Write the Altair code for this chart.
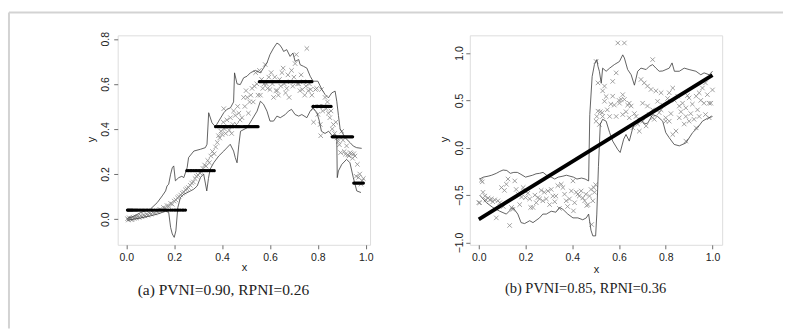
import bisect
import altair as alt
import pandas as pd

# ---------------- panel (a) ----------------
a_x = [0.005, 0.008, 0.012, 0.016, 0.02, 0.024, 0.028, 0.033, 0.038, 0.043, 0.048, 0.054, 0.06, 0.066,
       0.072, 0.078, 0.085, 0.09, 0.097, 0.104, 0.11, 0.118, 0.125, 0.132, 0.14, 0.147, 0.155, 0.162,
       0.17, 0.177, 0.185, 0.192, 0.2, 0.207, 0.214, 0.22, 0.227, 0.234, 0.24, 0.247, 0.253, 0.26,
       0.267, 0.273, 0.28, 0.287, 0.293, 0.3, 0.307, 0.313, 0.32, 0.327, 0.333, 0.34, 0.347, 0.353,
       0.36, 0.367, 0.373, 0.38, 0.385, 0.39, 0.395, 0.4, 0.405, 0.407, 0.41, 0.415, 0.42, 0.425,
       0.43, 0.435, 0.44, 0.445, 0.448, 0.455, 0.46, 0.465, 0.47, 0.475, 0.483, 0.49, 0.495, 0.5,
       0.505, 0.51, 0.515, 0.52, 0.525, 0.53, 0.535, 0.54, 0.545, 0.55, 0.556, 0.56, 0.565, 0.57,
       0.575, 0.58, 0.585, 0.59, 0.595, 0.6, 0.605, 0.61, 0.615, 0.62, 0.625, 0.63, 0.635, 0.64,
       0.645, 0.65, 0.655, 0.66, 0.665, 0.67, 0.675, 0.68, 0.685, 0.69, 0.695, 0.7, 0.705, 0.71,
       0.715, 0.72, 0.725, 0.73, 0.735, 0.74, 0.745, 0.75, 0.754, 0.76, 0.765, 0.77, 0.775, 0.78,
       0.782, 0.79, 0.795, 0.8, 0.805, 0.81, 0.812, 0.815, 0.82, 0.825, 0.83, 0.835, 0.84, 0.844,
       0.85, 0.855, 0.86, 0.865, 0.87, 0.875, 0.88, 0.885, 0.89, 0.895, 0.9, 0.905, 0.91, 0.915,
       0.92, 0.925, 0.93, 0.935, 0.94, 0.945, 0.95, 0.955, 0.96, 0.965, 0.97, 0.975, 0.98, 0.985, 0.99]
a_y = [0.002, -0.004, 0.006, 0.0, 0.004, -0.003, 0.008, 0.003, 0.01, 0.005, 0.012, 0.007, 0.015, 0.01,
       0.018, 0.014, 0.022, 0.017, 0.026, 0.022, 0.03, 0.027, 0.036, 0.033, 0.043, 0.04, 0.052, 0.048,
       0.06, 0.057, 0.07, 0.066, 0.08, 0.085, 0.094, 0.1, 0.107, 0.115, 0.12, 0.13, 0.135, 0.14,
       0.15, 0.16, 0.165, 0.18, 0.19, 0.195, 0.205, 0.21, 0.225, 0.24, 0.235, 0.26, 0.25, 0.28,
       0.3, 0.29, 0.32, 0.34, 0.37, 0.36, 0.39, 0.375, 0.43, 0.49, 0.4, 0.38, 0.44, 0.41,
       0.395, 0.45, 0.38, 0.42, 0.48, 0.46, 0.42, 0.5, 0.47, 0.44, 0.45, 0.54, 0.5, 0.57,
       0.54, 0.47, 0.52, 0.55, 0.58, 0.52, 0.59, 0.65, 0.6, 0.55, 0.66, 0.55, 0.62, 0.58,
       0.6, 0.686, 0.6, 0.58, 0.63, 0.575, 0.65, 0.6, 0.54, 0.63, 0.57, 0.57, 0.55, 0.62,
       0.59, 0.65, 0.67, 0.6, 0.56, 0.58, 0.64, 0.54, 0.61, 0.66, 0.59, 0.63, 0.69, 0.73,
       0.6, 0.6, 0.57, 0.64, 0.575, 0.61, 0.55, 0.59, 0.757, 0.57, 0.6, 0.575, 0.55, 0.49,
       0.43, 0.575, 0.58, 0.465, 0.5, 0.42, 0.37, 0.575, 0.48, 0.5, 0.54, 0.49, 0.52, 0.47,
       0.45, 0.48, 0.4, 0.42, 0.38, 0.43, 0.36, 0.345, 0.33, 0.295, 0.39, 0.35, 0.3, 0.288,
       0.325, 0.285, 0.28, 0.295, 0.29, 0.27, 0.29, 0.28, 0.19, 0.243, 0.185, 0.2, 0.155, 0.17, 0.18]

# fitted step function: breakpoints and levels
a_step_breaks = [0.25, 0.372, 0.556, 0.78, 0.858, 0.95]
a_step_levels = [0.04, 0.215, 0.41, 0.61, 0.50, 0.365, 0.16]

# band lines
a_up_x = [0.004, 0.03, 0.06, 0.1, 0.129, 0.15, 0.164, 0.17, 0.177, 0.185, 0.192, 0.198, 0.205, 0.219,
          0.232, 0.24, 0.254, 0.26, 0.282, 0.31, 0.33, 0.337, 0.344, 0.358, 0.372, 0.386, 0.407, 0.42,
          0.435, 0.448, 0.452, 0.4625, 0.476, 0.49, 0.504, 0.518, 0.539, 0.56, 0.573, 0.5875, 0.6,
          0.615, 0.629, 0.64, 0.65, 0.657, 0.67, 0.684, 0.696, 0.705, 0.72, 0.726, 0.74, 0.754,
          0.768, 0.78, 0.8, 0.817, 0.83, 0.844, 0.858, 0.872, 0.879, 0.886, 0.893, 0.914, 0.935,
          0.948, 0.962, 0.983]
a_up_y = [0.003, 0.012, 0.029, 0.044, 0.073, 0.103, 0.125, 0.147, 0.155, 0.199, 0.228, 0.236, 0.17, 0.184,
          0.19, 0.184, 0.228, 0.273, 0.302, 0.31, 0.317, 0.332, 0.472, 0.427, 0.41, 0.435, 0.472, 0.487,
          0.494, 0.52, 0.649, 0.6, 0.597, 0.627, 0.634, 0.649, 0.66, 0.649, 0.67, 0.693, 0.73,
          0.759, 0.781, 0.774, 0.759, 0.744, 0.752, 0.722, 0.737, 0.7, 0.708, 0.685, 0.678, 0.67,
          0.634, 0.612, 0.612, 0.575, 0.553, 0.538, 0.56, 0.568, 0.523, 0.46, 0.4, 0.361, 0.339,
          0.324, 0.317, 0.314]
a_lo_x = [0.004, 0.06, 0.1, 0.129, 0.164, 0.177, 0.185, 0.192, 0.2, 0.207, 0.215, 0.226, 0.24, 0.268,
          0.282, 0.296, 0.31, 0.323, 0.33, 0.336, 0.343, 0.35, 0.365, 0.386, 0.407, 0.434, 0.448,
          0.455, 0.4625, 0.47, 0.477, 0.504, 0.525, 0.546, 0.56, 0.573, 0.5875, 0.6, 0.615, 0.629,
          0.643, 0.664, 0.677, 0.69, 0.705, 0.72, 0.733, 0.754, 0.768, 0.78, 0.796, 0.805, 0.815,
          0.83, 0.845, 0.86, 0.872, 0.879, 0.881, 0.886, 0.9, 0.92, 0.934, 0.948, 0.9625, 0.98]
a_lo_y = [-0.005, 0.005, 0.014, 0.022, 0.035, 0.03, -0.037, -0.066, -0.081, -0.052, 0.051, 0.096, 0.11, 0.125,
          0.133, 0.147, 0.185, 0.2, 0.16, 0.125, 0.18, 0.221, 0.25, 0.28, 0.302, 0.332, 0.302,
          0.273, 0.25, 0.33, 0.39, 0.405, 0.442, 0.479, 0.523, 0.51, 0.479, 0.435, 0.435, 0.457,
          0.45, 0.464, 0.479, 0.487, 0.464, 0.457, 0.464, 0.45, 0.479, 0.494, 0.472, 0.44, 0.39,
          0.38, 0.39, 0.37, 0.375, 0.36, 0.184, 0.214, 0.243, 0.265, 0.25, 0.184, 0.125, 0.118]

a_x_ticks = [0.0, 0.2, 0.4, 0.6, 0.8, 1.0]
a_y_ticks = [0.0, 0.2, 0.4, 0.6, 0.8]
a_caption = "(a) PVNI=0.90, RPNI=0.26"

# ---------------- panel (b) ----------------
b_x = [0.0, 0.004, 0.011, 0.015, 0.018, 0.026, 0.03, 0.04, 0.047, 0.054, 0.06, 0.068, 0.075, 0.082,
       0.09, 0.097, 0.105, 0.11, 0.118, 0.125, 0.132, 0.14, 0.146, 0.154, 0.16, 0.168, 0.175, 0.183,
       0.19, 0.196, 0.2, 0.21, 0.218, 0.222, 0.232, 0.24, 0.246, 0.253, 0.26, 0.267, 0.274, 0.28,
       0.289, 0.296, 0.303, 0.31, 0.317, 0.325, 0.33, 0.338, 0.345, 0.353, 0.36, 0.367, 0.374, 0.38,
       0.388, 0.396, 0.403, 0.405, 0.41, 0.417, 0.424, 0.43, 0.438, 0.445, 0.453, 0.458, 0.462, 0.467,
       0.474, 0.48, 0.483, 0.488, 0.492, 0.495, 0.5,
       0.502, 0.502, 0.505, 0.51, 0.51, 0.516, 0.52, 0.528, 0.53, 0.53, 0.538, 0.538, 0.545, 0.55,
       0.56, 0.565, 0.573, 0.573, 0.58, 0.588, 0.588, 0.595, 0.6, 0.602, 0.609, 0.616, 0.616, 0.623,
       0.623, 0.63, 0.637, 0.644, 0.644, 0.652, 0.659, 0.666, 0.673, 0.68, 0.687, 0.694, 0.701, 0.701,
       0.708, 0.716, 0.722, 0.722, 0.73, 0.737, 0.744, 0.744, 0.744, 0.751, 0.758, 0.765, 0.772, 0.78,
       0.78, 0.787, 0.8, 0.8, 0.808, 0.815, 0.815, 0.822, 0.83, 0.83, 0.837, 0.844, 0.851, 0.858,
       0.858, 0.865, 0.872, 0.879, 0.886, 0.886, 0.886, 0.893, 0.9, 0.9, 0.907, 0.914, 0.921, 0.93,
       0.93, 0.936, 0.943, 0.943, 0.95, 0.957, 0.964, 0.97, 0.97, 0.978, 0.986, 0.986, 0.993, 1.0]
b_y = [-0.58, -0.58, -0.343, -0.36, -0.47, -0.51, -0.55, -0.53, -0.55, -0.54, -0.57, -0.55, -0.74, -0.56,
       -0.58, -0.42, -0.62, -0.45, -0.385, -0.33, -0.82, -0.63, -0.65, -0.35, -0.44, -0.49, -0.6, -0.52,
       -0.42, -0.456, -0.526, -0.48, -0.54, -0.63, -0.63, -0.5, -0.58, -0.526, -0.54, -0.45, -0.56, -0.47,
       -0.54, -0.456, -0.6, -0.44, -0.51, -0.57, -0.51, -0.4, -0.64, -0.385, -0.42, -0.49, -0.56, -0.62,
       -0.54, -0.456, -0.35, -0.666, -0.58, -0.47, -0.49, -0.51, -0.456, -0.53, -0.56, -0.49, -0.61, -0.6,
       -0.51, -0.44, -0.81, -0.56, -0.42, -0.47, -0.39,
       0.91, 0.28, 0.33, 0.684, 0.386, 0.245, 0.38, 0.37, 0.6, 0.33, 0.65, 0.49, 0.54, 0.4,
       0.33, 0.46, 0.7, 0.544, 0.45, 0.79, 0.33, 1.105, 0.5, 0.47, 0.51, 0.56, 0.35, 1.105,
       0.51, 0.38, 0.45, 0.47, 0.316, 0.44, 0.21, 0.36, 0.33, 0.25, 0.175, 0.72, 0.47, 0.28,
       0.684, 0.23, 0.65, 0.44, 0.35, 0.615, 0.93, 0.4, 0.316, 0.3, 0.6, 0.49, 0.37, 0.58,
       0.4, 0.45, 0.316, 0.28, 0.52, 0.58, 0.28, 0.36, 0.63, 0.14, 0.5, 0.176, 0.544, 0.44,
       0.316, 0.38, 0.47, 0.25, 0.42, 0.33, 0.07, 0.55, 0.526, 0.28, 0.36, 0.46, 0.3, 0.544,
       0.21, 0.4, 0.58, 0.33, 0.5, 0.63, 0.47, 0.684, 0.35, 0.56, 0.47, 0.316, 0.47, 0.61]

# fitted straight line (end values)
b_fit_x = [0.0, 1.0]
b_fit_y = [-0.755, 0.765]

b_up_x = [0.004, 0.02, 0.04, 0.055, 0.075, 0.09, 0.104, 0.12, 0.135, 0.15, 0.165, 0.18, 0.2, 0.215,
          0.23, 0.245, 0.26, 0.275, 0.29, 0.31, 0.325, 0.34, 0.36, 0.375, 0.39, 0.405, 0.42, 0.44,
          0.455, 0.47, 0.475, 0.485, 0.495, 0.505, 0.51, 0.516, 0.524, 0.53, 0.545, 0.56, 0.58,
          0.602, 0.616, 0.623, 0.637, 0.652, 0.666, 0.68, 0.694, 0.716, 0.73, 0.744, 0.758, 0.772,
          0.787, 0.815, 0.827, 0.837, 0.858, 0.879, 0.9, 0.929, 0.95, 0.964, 0.986, 1.0]
b_up_y = [-0.33, -0.31, -0.3, -0.29, -0.27, -0.25, -0.235, -0.24, -0.27, -0.26, -0.26, -0.28, -0.31, -0.3,
          -0.29, -0.275, -0.27, -0.26, -0.29, -0.31, -0.33, -0.31, -0.3, -0.29, -0.3, -0.31, -0.33, -0.32,
          -0.33, -0.35, 0.35, 0.75, 0.88, 0.93, 0.86, 0.807, 0.68, 0.84, 0.807, 0.84, 0.877,
          0.91, 0.98, 0.947, 0.825, 0.77, 0.66, 0.807, 0.84, 0.825, 0.86, 0.877, 0.84, 0.807,
          0.81, 0.84, 0.895, 0.807, 0.807, 0.84, 0.825, 0.807, 0.77, 0.79, 0.77, 0.807]
b_lo_x = [0.004, 0.033, 0.06, 0.09, 0.118, 0.146, 0.167, 0.181, 0.196, 0.218, 0.232, 0.26, 0.274, 0.289,
          0.31, 0.33, 0.345, 0.36, 0.381, 0.403, 0.424, 0.445, 0.46, 0.47, 0.48, 0.488, 0.5, 0.505,
          0.512, 0.52, 0.53, 0.545, 0.56, 0.573, 0.595, 0.605, 0.62, 0.63, 0.644, 0.659, 0.673,
          0.687, 0.708, 0.723, 0.744, 0.765, 0.787, 0.8, 0.815, 0.836, 0.858, 0.886, 0.915, 0.936,
          0.957, 0.978, 1.0]
b_lo_y = [-0.5, -0.58, -0.63, -0.67, -0.7, -0.63, -0.7, -0.79, -0.8, -0.77, -0.79, -0.74, -0.7, -0.7,
          -0.67, -0.68, -0.63, -0.65, -0.7, -0.74, -0.74, -0.76, -0.74, -0.7, -0.87, -0.93, -0.93, -0.7,
          -0.2, 0.25, 0.3, 0.28, 0.16, 0.07, -0.02, -0.05, 0.09, 0.14, 0.07, 0.21, 0.28,
          0.316, 0.25, 0.26, 0.35, 0.33, 0.28, 0.16, 0.105, 0.035, 0.02, 0.05, 0.16, 0.21,
          0.28, 0.31, 0.33]

b_x_ticks = [0.0, 0.2, 0.4, 0.6, 0.8, 1.0]
b_y_ticks = [-1.0, -0.5, 0.0, 0.5, 1.0]
b_caption = "(b) PVNI=0.85, RPNI=0.36"

# ---------------- styling ----------------
W, H = 253, 210
BOX = "#6e6e6e"
CROSS = "M-1,-1L1,1M-1,1L1,-1"
SANS = "Liberation Sans"
SERIF = "Liberation Serif"


def band_frame(ux, uy, lx, ly):
    rows = [{"x": x, "y": y, "band": "upper", "i": i} for i, (x, y) in enumerate(zip(ux, uy))]
    rows += [{"x": x, "y": y, "band": "lower", "i": i} for i, (x, y) in enumerate(zip(lx, ly))]
    return pd.DataFrame(rows)


def axes(xdom, ydom, xt, yt, fs, ylab_pad, ytitle_x, xtitle_y):
    xax = alt.Axis(values=xt, format=".1f", domain=False, grid=False, tickSize=4, tickColor=BOX,
                   labelFont=SANS, labelFontSize=fs, labelColor="#222", labelPadding=4,
                   labelFlush=False, labelOverlap=False, title="x", titleFont=SANS,
                   titleFontSize=11, titleFontWeight="normal", titleColor="#222",
                   titleX=W / 2, titleY=xtitle_y, titleBaseline="middle", titleAlign="center")
    yax = alt.Axis(values=yt, format=".1f", domain=False, grid=False, tickSize=4, tickColor=BOX,
                   labelFont=SANS, labelFontSize=fs, labelColor="#222", labelPadding=ylab_pad,
                   labelAngle=270, labelAlign="center", labelBaseline="bottom",
                   labelFlush=False, labelOverlap=False, title="y", titleFont=SANS,
                   titleFontSize=11, titleFontWeight="normal", titleColor="#222",
                   titleAngle=270, titleX=ytitle_x, titleY=H / 2 - 1, titleBaseline="middle",
                   titleAlign="center")
    x = alt.X("x:Q", scale=alt.Scale(domain=xdom, nice=False, zero=False), axis=xax)
    y = alt.Y("y:Q", scale=alt.Scale(domain=ydom, nice=False, zero=False), axis=yax)
    return x, y


# ---------------- panel (a) chart ----------------
a_dot_y = [a_step_levels[bisect.bisect_right(a_step_breaks, v)] for v in a_x]
a_pts = pd.DataFrame({"x": a_x, "y": a_y})
a_dots = pd.DataFrame({"x": a_x, "y": a_dot_y})
a_bands = band_frame(a_up_x, a_up_y, a_lo_x, a_lo_y)
ax_, ay_ = axes([-0.036, 1.018], [-0.114, 0.8155], a_x_ticks, a_y_ticks, 10.5, 3.7, -26.3, 22.7)

a_cross = alt.Chart(a_pts).mark_point(shape=CROSS, size=20, filled=False, strokeWidth=0.8,
                                      color="#8a8a8a", opacity=1).encode(x=ax_, y=ay_)
a_line = alt.Chart(a_bands).mark_line(color="#3c3c3c", strokeWidth=0.8).encode(
    x="x:Q", y="y:Q", detail="band:N", order="i:Q")
a_dot = alt.Chart(a_dots).mark_circle(size=11, color="black", opacity=1).encode(x="x:Q", y="y:Q")
a_cap = alt.Chart(pd.DataFrame({"t": [a_caption]})).mark_text(
    font=SERIF, fontSize=15.5, color="#222", align="center", baseline="middle").encode(
    x=alt.value(106), y=alt.value(255), text="t:N")
frame_src = pd.DataFrame({"d": [0]})
frame_top = alt.Chart(frame_src).mark_rule(color="#d3d3d3", strokeWidth=2).encode(
    x=alt.value(-109), x2=alt.value(667), y=alt.value(-23))
frame_left = alt.Chart(frame_src).mark_rule(color="#d3d3d3", strokeWidth=2).encode(
    x=alt.value(-109), y=alt.value(-23), y2=alt.value(294))

panel_a = alt.layer(a_cross, a_line, a_dot, a_cap, frame_top, frame_left).properties(
    width=W, height=H)

# ---------------- panel (b) chart ----------------
b_pts = pd.DataFrame({"x": b_x, "y": b_y})
b_fit = pd.DataFrame({"x": b_fit_x, "y": b_fit_y})
b_bands = band_frame(b_up_x, b_up_y, b_lo_x, b_lo_y)
bx_, by_ = axes([-0.0384, 1.0414], [-1.024, 1.186], b_x_ticks, b_y_ticks, 10.5, 1.8, -25.6, 24.3)

b_cross = alt.Chart(b_pts).mark_point(shape=CROSS, size=20, filled=False, strokeWidth=0.8,
                                      color="#8a8a8a", opacity=1).encode(x=bx_, y=by_)
b_line = alt.Chart(b_bands).mark_line(color="#3c3c3c", strokeWidth=0.8).encode(
    x="x:Q", y="y:Q", detail="band:N", order="i:Q")
b_fitline = alt.Chart(b_fit).mark_line(color="black", strokeWidth=3.8).encode(x="x:Q", y="y:Q")
b_cap = alt.Chart(pd.DataFrame({"t": [b_caption]})).mark_text(
    font=SERIF, fontSize=14.5, color="#222", align="center", baseline="middle").encode(
    x=alt.value(116), y=alt.value(254.5), text="t:N")

panel_b = alt.layer(b_cross, b_line, b_fitline, b_cap).properties(width=W, height=H)

chart = alt.hconcat(panel_a, panel_b, spacing=100, bounds="flush").properties(
    padding={"left": 7, "top": 10, "right": 0, "bottom": 0}
).configure_view(stroke=BOX, strokeWidth=1).configure(background="white")

chart.save("out.html", embed_options={"renderer": "svg", "actions": False})
